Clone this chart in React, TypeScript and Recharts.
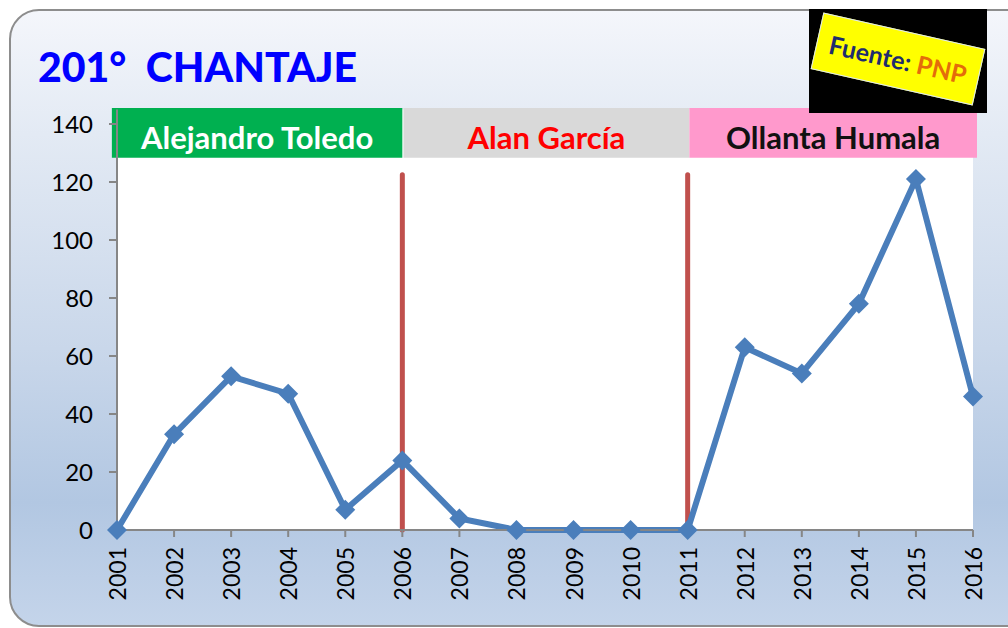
import React from 'react';
import { LineChart, Line, XAxis, YAxis, CartesianGrid, ReferenceArea, ReferenceLine } from 'recharts';

const years = [2001, 2002, 2003, 2004, 2005, 2006, 2007, 2008, 2009, 2010, 2011, 2012, 2013, 2014, 2015, 2016];
const values = [0, 33, 53, 47, 7, 24, 4, 0, 0, 0, 0, 63, 54, 78, 121, 46];
const yTicks = [0, 20, 40, 60, 80, 100, 120, 140];
const periods = [
  { name: 'Alejandro Toledo', from: 2000.91, to: 2006.0, fill: '#00b050', color: '#ffffff' },
  { name: 'Alan García', from: 2006.02, to: 2011.03, fill: '#d9d9d9', color: '#ff0000' },
  { name: 'Ollanta Humala', from: 2011.03, to: 2016.07, fill: '#ff99cc', color: '#111111' },
];
const dividers = [2006, 2011];
const title = '201°  CHANTAJE';

const data = years.map((y, i) => ({ year: y, value: values[i] }));
const FONT = 'Lato, "Open Sans", sans-serif';

const Diamond = (props: any) => {
  const { cx, cy } = props;
  if (cx == null || cy == null) return null;
  const r = 10;
  return <path d={`M${cx},${cy - r}L${cx + r},${cy}L${cx},${cy + r}L${cx - r},${cy}Z`} fill="#4a7ebb" />;
};

const XTick = (props: any) => {
  const { x, y, payload } = props;
  return (
    <text x={x} y={y + 8} transform={`rotate(-90 ${x} ${y + 8})`} textAnchor="end" dominantBaseline="central" fontSize={23} fontFamily={FONT} fill="#000">
      {payload.value}
    </text>
  );
};

export default function App() {
  return (
    <div style={{ position: 'absolute', left: 0, top: 0, width: 1008, height: 628, overflow: 'hidden', background: '#fff' }}>
      <div style={{
        position: 'absolute', left: 9, top: 9, width: 1030, height: 614,
        border: '2px solid #8d8d8d', borderRadius: 30,
        background: 'linear-gradient(to bottom, #f4f6fb 0%, #e3eaf4 20%, #c9d7ea 55%, #b2c7e2 80%, #c4d4ea 100%)',
      }} />
      <div style={{ position: 'absolute', left: 38, top: 39, fontFamily: FONT, fontWeight: 900, fontSize: 41, color: '#0000ff', whiteSpace: 'pre', lineHeight: '56px' }}>
        {title}
      </div>
      <div style={{ position: 'absolute', left: 0, top: 0 }}>
        <LineChart width={1008} height={628} data={data} margin={{ top: 109.5, right: 35, bottom: 0, left: 0 }}>
          <CartesianGrid horizontal={false} vertical={false} fill="#ffffff" />
          <XAxis
            dataKey="year" type="number" domain={[2001, 2016]} ticks={years} interval={0}
            height={98} tick={<XTick />} tickLine={{ stroke: '#868686', strokeWidth: 2 }} tickSize={7}
            axisLine={{ stroke: '#868686', strokeWidth: 2 }}
          />
          <YAxis
            type="number" domain={[0, 145]} ticks={yTicks} interval={0} width={117}
            tick={{ fontSize: 24, fontFamily: FONT, fill: '#000' }} tickSize={8} tickMargin={16}
            tickLine={{ stroke: '#868686', strokeWidth: 2 }} axisLine={{ stroke: '#868686', strokeWidth: 2 }}
          />
          {periods.map((p) => (
            <ReferenceArea key={p.name} x1={p.from} x2={p.to} y1={128.4} y2={145.5} fill={p.fill} fillOpacity={1} stroke="none" ifOverflow="visible"
              label={{ value: p.name, position: 'center', fill: p.color, fontSize: 31, fontWeight: 700, fontFamily: FONT, dy: 5 }} />
          ))}
          {dividers.map((d) => (
            <ReferenceLine key={d} segment={[{ x: d, y: 0 }, { x: d, y: 122.5 }]} stroke="#c0504d" strokeWidth={5} strokeLinecap="round" ifOverflow="visible" />
          ))}
          <Line dataKey="value" stroke="#4a7ebb" strokeWidth={6} dot={<Diamond />} activeDot={false} isAnimationActive={false} />
        </LineChart>
      </div>
      <div style={{ position: 'absolute', left: 809, top: 9, width: 178, height: 104, background: '#000' }} />
      <div style={{
        position: 'absolute', left: 815, top: 30, width: 164, height: 56, background: '#ffff00',
        border: '1px solid #dde8f5', transform: 'rotate(12.7deg)', display: 'flex', alignItems: 'center', justifyContent: 'center',
        fontFamily: FONT, fontWeight: 700, fontSize: 25, whiteSpace: 'pre',
      }}>
        <span style={{ color: '#1f2d6e' }}>Fuente: </span><span style={{ color: '#e46c0a' }}>PNP</span>
      </div>
    </div>
  );
}
